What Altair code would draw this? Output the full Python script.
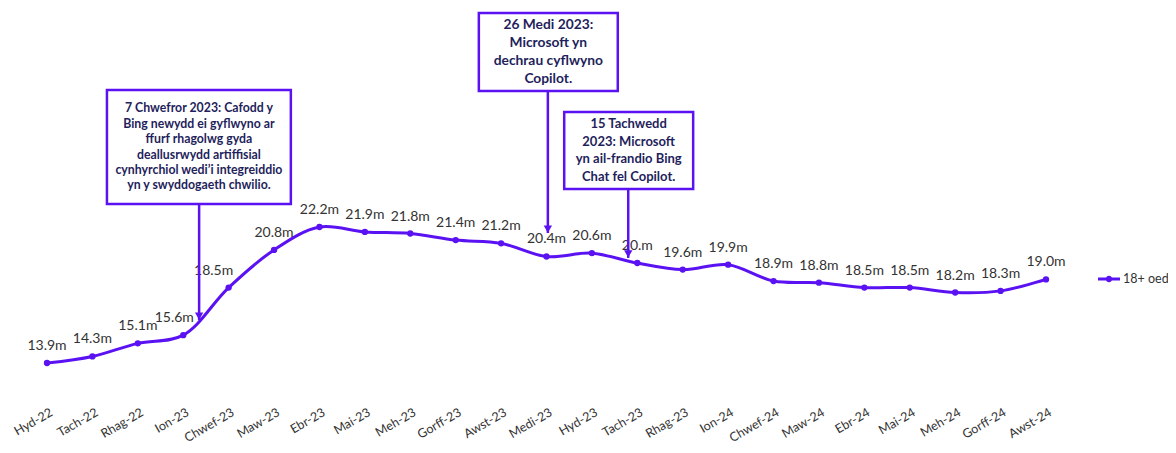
import altair as alt
import pandas as pd
import json

months = ["Hyd-22", "Tach-22", "Rhag-22", "Ion-23", "Chwef-23", "Maw-23", "Ebr-23",
          "Mai-23", "Meh-23", "Gorff-23", "Awst-23", "Medi-23", "Hyd-23", "Tach-23",
          "Rhag-23", "Ion-24", "Chwef-24", "Maw-24", "Ebr-24", "Mai-24", "Meh-24",
          "Gorff-24", "Awst-24"]
values = [13.9, 14.3, 15.1, 15.6, 18.5, 20.8, 22.2, 21.9, 21.8, 21.4, 21.2, 20.4,
          20.6, 20.0, 19.6, 19.9, 18.9, 18.8, 18.5, 18.5, 18.2, 18.3, 19.0]
labels = ["13.9m", "14.3m", "15.1m", "15.6m", "18.5m", "20.8m", "22.2m", "21.9m",
          "21.8m", "21.4m", "21.2m", "20.4m", "20.6m", "20.m", "19.6m", "19.9m",
          "18.9m", "18.8m", "18.5m", "18.5m", "18.2m", "18.3m", "19.0m"]
series_name = "18+ oed"
# data labels moved left of their point (to clear the arrow): index -> pixel shift
label_nudges = {3: -9, 4: -15}

ann_text = [
    ["7 Chwefror 2023: Cafodd y", "Bing newydd ei gyflwyno ar", "ffurf rhagolwg gyda",
     "deallusrwydd artiffisial", "cynhyrchiol wedi\u2019i integreiddio", "yn y swyddogaeth chwilio."],
    ["26 Medi 2023:", "Microsoft yn", "dechrau cyflwyno", "Copilot."],
    ["15 Tachwedd", "2023: Microsoft", "yn ail-frandio Bing", "Chat fel Copilot."],
]
ann_x = [3.35, 11.03, 12.8]
ann_top = [23.6, 30.5, 24.52]
ann_tip = [16.52, 21.83, 20.31]
box_x1 = [1.32, 9.51, 11.39]
box_x2 = [5.37, 12.57, 14.23]
box_y1 = [23.6, 30.5, 24.52]
box_y2 = [30.56, 35.25, 29.21]
ann_size = [12.3, 13.8, 13]
ann_spacing = [15.4, 18.3, 17.7]

PURPLE = "#5B12F2"
NAVY = "#1F1F5C"
LABEL = "#333333"
FONT = "Lato"

W, H = 1160, 380
XD = [-0.859, 24.687]
YD = [12.375, 35.56]
PXU = H / (YD[1] - YD[0])
xs = alt.Scale(domain=XD, nice=False, zero=False)
ys = alt.Scale(domain=YD, nice=False, zero=False)

df = pd.DataFrame({"i": list(range(len(months))), "month": months, "v": values,
                   "lab": labels, "series": series_name})
df["nudged"] = df["i"].isin(list(label_nudges))

ann = pd.DataFrame({"ax": ann_x, "top": ann_top, "tip": ann_tip,
                    "bx1": box_x1, "bx2": box_x2, "by1": box_y1, "by2": box_y2})

rows = []
for k, lines in enumerate(ann_text):
    cx = (box_x1[k] + box_x2[k]) / 2
    cy = (box_y1[k] + box_y2[k]) / 2
    n = len(lines)
    for j, t in enumerate(lines):
        rows.append({"cx": cx, "cy": cy + ((n - 1) / 2 - j) * ann_spacing[k] / PXU,
                     "t": t, "fs": ann_size[k]})
ann_lines = pd.DataFrame(rows)

label_expr = "%s[datum.value]" % json.dumps(months)

legend_path = ("M -1 -0.13 L 1 -0.13 L 1 0.13 L -1 0.13 Z "
               "M 0.3 0 A 0.3 0.3 0 1 1 -0.3 0 A 0.3 0.3 0 1 1 0.3 0 Z")

base = alt.Chart(df)

line = base.mark_line(interpolate="catmull-rom", strokeWidth=3, color=PURPLE).encode(
    x=alt.X("i:Q", scale=xs,
            axis=alt.Axis(values=list(range(len(months))), labelExpr=label_expr,
                          labelAngle=-30, labelAlign="right", labelBaseline="middle",
                          labelPadding=23, labelOffset=4, domain=False, ticks=False,
                          grid=False, title=None, labelFont=FONT, labelFontSize=12.5,
                          labelColor=LABEL, labelOverlap=False)),
    y=alt.Y("v:Q", scale=ys, axis=None),
)

pts = base.mark_point(filled=True, size=40, opacity=1).encode(
    x=alt.X("i:Q", scale=xs),
    y=alt.Y("v:Q", scale=ys),
    color=alt.Color("series:N", scale=alt.Scale(range=[PURPLE]),
                    legend=alt.Legend(title=None, orient="none", legendX=1090, legendY=260,
                                      symbolType=legend_path, symbolSize=484,
                                      symbolStrokeWidth=0, symbolOpacity=1,
                                      labelFont=FONT, labelFontSize=12.5,
                                      labelColor=LABEL, labelOffset=3)),
)

txt_layers = [base.transform_filter("!datum.nudged").mark_text(
    dy=-17, fontSize=14, font=FONT, color=LABEL).encode(
    x=alt.X("i:Q", scale=xs), y=alt.Y("v:Q", scale=ys), text="lab:N")]
for idx, shift in label_nudges.items():
    txt_layers.append(base.transform_filter("datum.i == %d" % idx).mark_text(
        dy=-17, dx=shift, fontSize=14, font=FONT, color=LABEL).encode(
        x=alt.X("i:Q", scale=xs), y=alt.Y("v:Q", scale=ys), text="lab:N"))

a = alt.Chart(ann)
rules = a.mark_rule(color=PURPLE, strokeWidth=2.5).encode(
    x=alt.X("ax:Q", scale=xs), y=alt.Y("top:Q", scale=ys), y2="tip:Q")
heads = a.mark_point(shape="triangle-down", filled=True, size=70, color=PURPLE,
                     opacity=1, yOffset=-4).encode(
    x=alt.X("ax:Q", scale=xs), y=alt.Y("tip:Q", scale=ys))
boxes = a.mark_rect(fill="white", stroke=PURPLE, strokeWidth=2.5).encode(
    x=alt.X("bx1:Q", scale=xs), x2="bx2:Q",
    y=alt.Y("by1:Q", scale=ys), y2="by2:Q")
btxt = alt.Chart(ann_lines).mark_text(font=FONT, fontWeight="bold", color=NAVY,
                                      align="center", baseline="middle").encode(
    x=alt.X("cx:Q", scale=xs), y=alt.Y("cy:Q", scale=ys),
    text="t:N", size=alt.Size("fs:Q", scale=None))

chart = alt.layer(line, pts, *txt_layers, rules, heads, boxes, btxt).properties(
    width=W, height=H,
    autosize=alt.AutoSizeParams(type="none"),
    padding={"left": 0, "top": 0, "right": 0, "bottom": 57},
).configure(background="white").configure_view(stroke=None)

chart.save("out.html", embed_options={"renderer": "svg", "actions": False})
